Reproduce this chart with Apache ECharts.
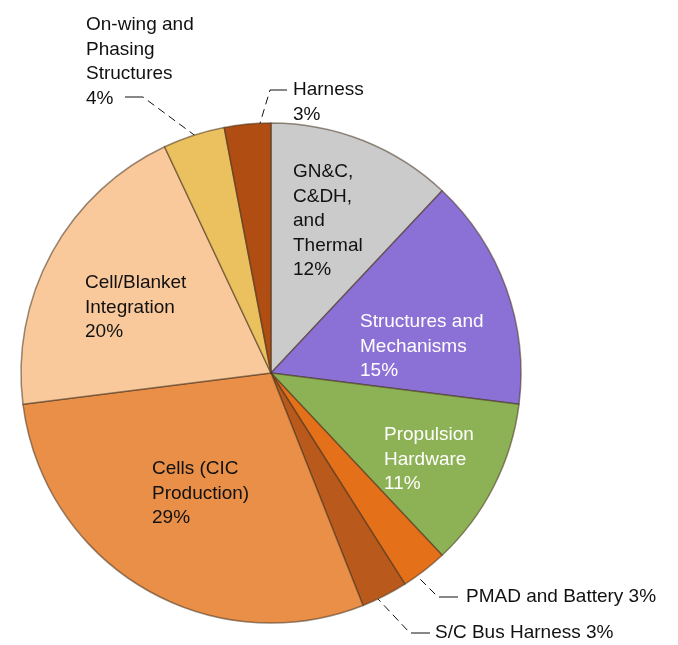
<!DOCTYPE html>
<html>
<head>
<meta charset="utf-8">
<script src="https://cdn.jsdelivr.net/npm/echarts@6/dist/echarts.min.js"></script>
<style>
  html, body { margin: 0; padding: 0; background: #fff; }
  #chart { width: 678px; height: 645px; }
</style>
</head>
<body>
<div id="chart"></div>
<script>
// slices, clockwise from 12 o'clock
const names = [
  'GN&C,\nC&DH,\nand\nThermal',
  'Structures and\nMechanisms',
  'Propulsion\nHardware',
  'PMAD and Battery',
  'S/C Bus Harness',
  'Cells (CIC\nProduction)',
  'Cell/Blanket\nIntegration',
  'On-wing and\nPhasing\nStructures',
  'Harness'
]
const values = [12, 15, 11, 3, 3, 29, 20, 4, 3]
const colors = ['#cbcbcb', '#8b70d6', '#8db255', '#e5701a', '#b95a1c', '#e98f48', '#f9c99b', '#ebc15f', '#b04d12']
const textColors = ['#111', '#fff', '#fff', '#111', '#111', '#111', '#111', '#111', '#111']
const outside = [false, false, false, true, true, false, false, true, true]
const oneLine = [false, false, false, true, true, false, false, false, false]

// where each label sits (top-left of its text) and its leader line
const labelPos = [
  [293, 160], [360, 310], [384, 423], [466, 585], [435, 621],
  [152, 457], [85, 271], [86, 13], [293, 78]
]
// leader lines start at the label, solid short run, then dashed towards the slice
const leaders = {
  3: [[458, 597], [438, 597], [418, 577]],
  4: [[430, 633], [410, 633], [378, 599]],
  7: [[125, 97], [143, 97], [205, 143]],
  8: [[287, 90], [270, 90], [258, 130]]
}
const dash = [19, 5, 8, 5, 8, 5, 8, 5, 8, 5, 8, 5, 8, 5, 8, 5, 8, 5, 8, 5]

let mychart = echarts.init(document.getElementById('chart'))
mychart.setOption({
  animation: false,
  series: [
    {
      type: 'pie',
      center: [271, 373],
      radius: 250,
      startAngle: 90,
      clockwise: true,
      avoidLabelOverlap: false,
      itemStyle: {
        borderColor: 'rgba(70,50,30,0.55)',
        borderWidth: 1.5,
      },
      label: {
        fontFamily: 'Liberation Sans, Arial, sans-serif',
        fontSize: 19,
        lineHeight: 24.5,
        align: 'left',
        formatter: (p) => p.name + (oneLine[p.dataIndex] ? ' ' : '\n') + p.value + '%',
      },
      labelLine: {
        lineStyle: { color: '#111', width: 1, type: dash },
      },
      labelLayout: (params) => {
        const i = params.dataIndex
        const out = {
          x: labelPos[i][0],
          y: labelPos[i][1],
          align: 'left',
          verticalAlign: 'top',
        }
        if (leaders[i]) out.labelLinePoints = leaders[i]
        return out
      },
      data: values.map((v, i) => ({
        name: names[i],
        value: v,
        itemStyle: { color: colors[i] },
        label: {
          position: outside[i] ? 'outside' : 'inside',
          color: textColors[i],
        },
        labelLine: { show: outside[i] },
      })),
    },
  ],
})
</script>
</body>
</html>
